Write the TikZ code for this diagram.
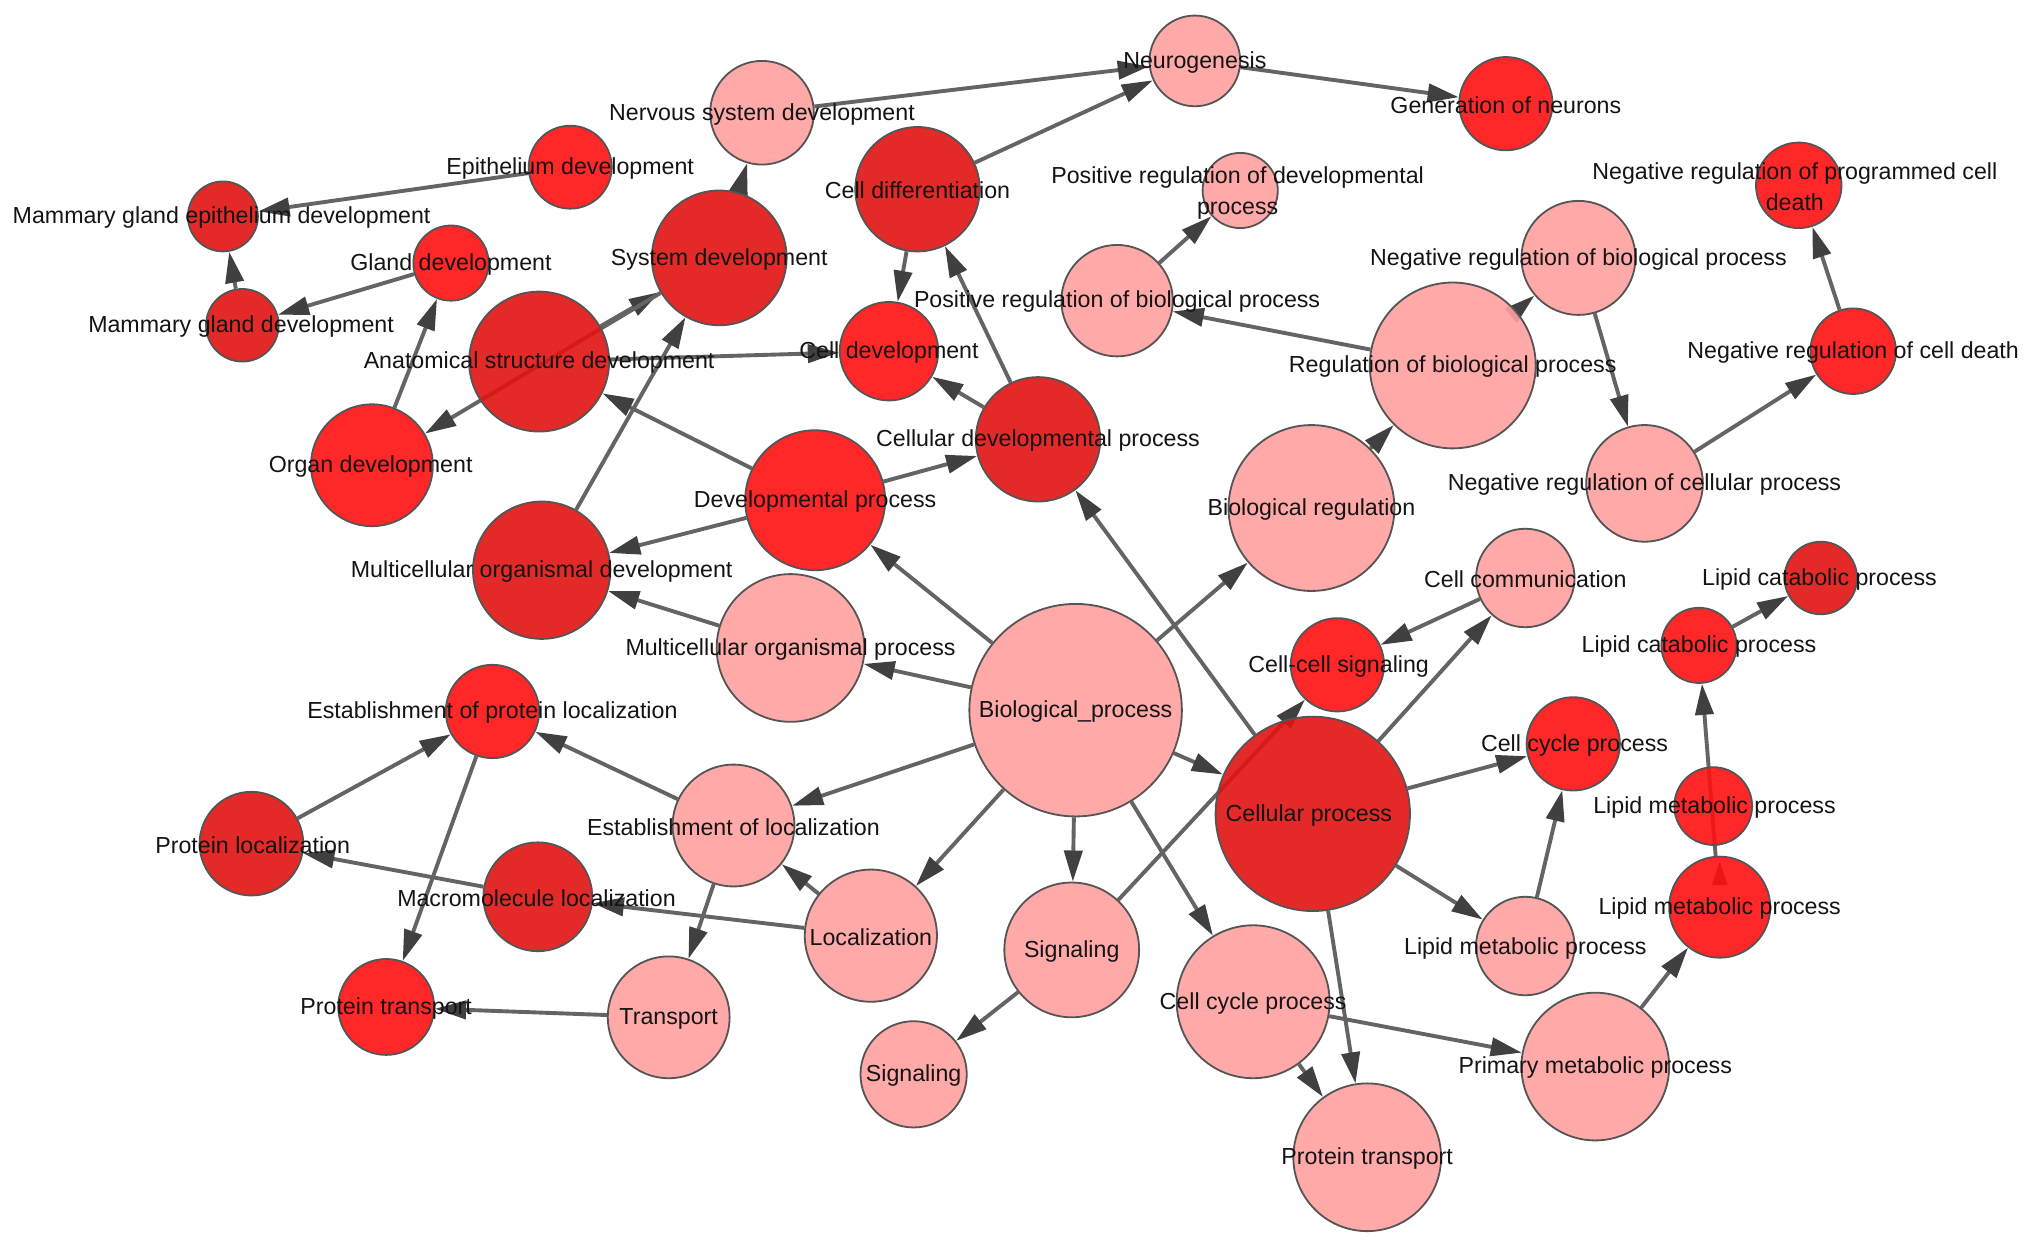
\documentclass[tikz,border=0pt]{standalone}
\usepackage{fontspec}
\setmainfont{Liberation Sans}
\usetikzlibrary{arrows.meta}
\pgfdeclarelayer{background}
\pgfdeclarelayer{foreground}
\pgfsetlayers{background,main,foreground}
\definecolor{cLight}{RGB}{255,160,160}
\definecolor{cRed}{RGB}{255,16,16}
\definecolor{cDark}{RGB}{226,18,18}
\definecolor{bordergray}{RGB}{85,85,85}
\definecolor{edgegray}{RGB}{100,100,100}
\definecolor{tipgray}{RGB}{64,64,64}
\tikzset{
  nd/.style={circle, draw=bordergray, line width=0.7pt, inner sep=0pt, minimum size=#1pt, fill opacity=0.9},
  lbl/.style={font=\fontsize{8.95}{12}\selectfont, inner sep=0pt, text=black!92, align=center},
  edge/.style={draw=edgegray, line width=1.5pt, -{Triangle[length=12pt,width=7pt,color=tipgray]}},
}
\begin{document}
\begin{tikzpicture}[x=0.5pt,y=-0.5pt]
\useasboundingbox (0,0) rectangle (1568,964);

% circles
\node[nd=35, fill=cLight] (neuro) at (922,47) {};
\node[nd=36, fill=cRed] (genneu) at (1162,80) {};
\node[nd=40, fill=cLight] (nervous) at (588,87) {};
\node[nd=32, fill=cRed] (epith) at (440,129) {};
\node[nd=27, fill=cDark] (mgepi) at (172,167) {};
\node[nd=48, fill=cDark] (celldiff) at (708,146) {};
\node[nd=29, fill=cLight] (posdev) at (957,147) {};
\node[nd=33, fill=cRed] (negpcd) at (1388,143) {};
\node[nd=29, fill=cRed] (gland) at (348,203) {};
\node[nd=52, fill=cDark] (sysdev) at (555,199) {};
\node[nd=44, fill=cLight] (negbio) at (1218,199) {};
\node[nd=28, fill=cDark] (mgdev) at (187,251) {};
\node[nd=43, fill=cLight] (posbio) at (862,232) {};
\node[nd=54, fill=cDark] (anat) at (416,279) {};
\node[nd=38, fill=cRed] (celldev) at (686,271) {};
\node[nd=64, fill=cLight] (regbio) at (1121,282) {};
\node[nd=33, fill=cRed] (negcd) at (1430,271) {};
\node[nd=47, fill=cRed] (organ) at (287,359) {};
\node[nd=48, fill=cDark] (cdp) at (801,339) {};
\node[nd=45, fill=cLight] (negcell) at (1269,373) {};
\node[nd=54, fill=cRed] (devproc) at (629,386) {};
\node[nd=64, fill=cLight] (bioreg) at (1012,392) {};
\node[nd=53, fill=cDark] (mod) at (418,440) {};
\node[nd=38, fill=cLight] (cellcomm) at (1177,446) {};
\node[nd=28, fill=cDark] (lipcatU) at (1405,446) {};
\node[nd=57, fill=cLight] (mop) at (610,500) {};
\node[nd=82, fill=cLight] (bp) at (830,548) {};
\node[nd=36, fill=cRed] (ccs) at (1032,513) {};
\node[nd=29, fill=cRed] (lipcatL) at (1311,498) {};
\node[nd=36, fill=cRed] (estprot) at (380,549) {};
\node[nd=36, fill=cRed] (ccpU) at (1214,574) {};
\node[nd=75, fill=cDark] (cellproc) at (1013,628) {};
\node[nd=30, fill=cRed] (lipmetU) at (1322,622) {};
\node[nd=47, fill=cLight] (estloc) at (566,637) {};
\node[nd=40, fill=cDark] (protloc) at (194,651) {};
\node[nd=42, fill=cDark] (macro) at (415,692) {};
\node[nd=39, fill=cRed] (lipmetL) at (1327,700) {};
\node[nd=51, fill=cLight] (loc) at (672,722) {};
\node[nd=52, fill=cLight] (sig) at (827,733) {};
\node[nd=38, fill=cLight] (lipmetP) at (1177,730) {};
\node[nd=37, fill=cRed] (ptL) at (298,777) {};
\node[nd=47, fill=cLight] (transport) at (516,785) {};
\node[nd=59, fill=cLight] (ccpL) at (967,773) {};
\node[nd=41, fill=cLight] (sigL) at (705,829) {};
\node[nd=57, fill=cLight] (primary) at (1231,823) {};
\node[nd=57, fill=cLight] (ptB) at (1055,893) {};

\begin{pgfonlayer}{background}
\fill[white] (0,0) rectangle (1568,964);
\draw[edge] (nervous) -- (neuro);
\draw[edge] (celldiff) -- (neuro);
\draw[edge] (neuro) -- (genneu);
\draw[edge] (epith) -- (mgepi);
\draw[edge] (mgdev) -- (mgepi);
\draw[edge] (gland) -- (mgdev);
\draw[edge] (organ) -- (gland);
\draw[edge] (sysdev) -- (nervous);
\draw[edge] (anat) -- (sysdev);
\draw[edge] (sysdev) -- (organ);
\draw[edge] (anat) -- (celldev);
\draw[edge] (celldiff) -- (celldev);
\draw[edge] (cdp) -- (celldiff);
\draw[edge] (cdp) -- (celldev);
\draw[edge] (devproc) -- (anat);
\draw[edge] (devproc) -- (cdp);
\draw[edge] (devproc) -- (mod);
\draw[edge] (mod) -- (sysdev);
\draw[edge] (mop) -- (mod);
\draw[edge] (bp) -- (mop);
\draw[edge] (bp) -- (devproc);
\draw[edge] (cellproc) -- (cdp);
\draw[edge] (bp) -- (bioreg);
\draw[edge] (bioreg) -- (regbio);
\draw[edge] (regbio) -- (posbio);
\draw[edge] (posbio) -- (posdev);
\draw[edge] (regbio) -- (negbio);
\draw[edge] (negbio) -- (negcell);
\draw[edge] (negcell) -- (negcd);
\draw[edge] (negcd) -- (negpcd);
\draw[edge] (bp) -- (cellproc);
\draw[edge] (cellproc) -- (cellcomm);
\draw[edge] (cellcomm) -- (ccs);
\draw[edge] (sig) -- (ccs);
\draw[edge] (cellproc) -- (ccpU);
\draw[edge] (cellproc) -- (lipmetP);
\draw[edge] (lipmetP) -- (ccpU);
\draw[edge] (cellproc) -- (ptB);
\draw[edge] (bp) -- (ccpL);
\draw[edge] (bp) -- (sig);
\draw[edge] (bp) -- (loc);
\draw[edge] (bp) -- (estloc);
\draw[edge] (ccpL) -- (ptB);
\draw[edge] (ccpL) -- (primary);
\draw[edge] (primary) -- (lipmetL);
\draw[edge] (lipmetL) -- (lipcatL);
\draw[edge] (lipcatL) -- (lipcatU);
\draw[edge] (sig) -- (sigL);
\draw[edge] (loc) -- (estloc);
\draw[edge] (loc) -- (macro);
\draw[edge] (estloc) -- (estprot);
\draw[edge] (estloc) -- (transport);
\draw[edge] (macro) -- (protloc);
\draw[edge] (protloc) -- (estprot);
\draw[edge] (estprot) -- (ptL);
\draw[edge] (transport) -- (ptL);
\fill[tipgray] (1321,683) -- (1333,683) -- (1327,665) -- cycle;
\end{pgfonlayer}

\begin{pgfonlayer}{foreground}
\node[lbl] (neuro-t) at (922,48) {Neurogenesis};
\node[lbl] (genneu-t) at (1162,81) {Generation of neurons};
\node[lbl] (nervous-t) at (588,88) {Nervous system development};
\node[lbl] (epith-t) at (440,130) {Epithelium development};
\node[lbl] (mgepi-t) at (171,168) {Mammary gland epithelium development};
\node[lbl] (celldiff-t) at (708,147) {Cell differentiation};
\node[lbl] (posdev-t) at (955,149) {Positive regulation of developmental\\process};
\node[lbl] (negpcd-t) at (1385,144) {Negative regulation of programmed cell\\death};
\node[lbl] (gland-t) at (348,204) {Gland development};
\node[lbl] (sysdev-t) at (555,200) {System development};
\node[lbl] (negbio-t) at (1218,200) {Negative regulation of biological process};
\node[lbl] (mgdev-t) at (186,252) {Mammary gland development};
\node[lbl] (posbio-t) at (862,233) {Positive regulation of biological process};
\node[lbl] (anat-t) at (416,280) {Anatomical structure development};
\node[lbl] (celldev-t) at (686,272) {Cell development};
\node[lbl] (regbio-t) at (1121,283) {Regulation of biological process};
\node[lbl] (negcd-t) at (1430,272) {Negative regulation of cell death};
\node[lbl] (organ-t) at (286,360) {Organ development};
\node[lbl] (cdp-t) at (801,340) {Cellular developmental process};
\node[lbl] (negcell-t) at (1269,374) {Negative regulation of cellular process};
\node[lbl] (devproc-t) at (629,387) {Developmental process};
\node[lbl] (bioreg-t) at (1012,393) {Biological regulation};
\node[lbl] (mod-t) at (418,441) {Multicellular organismal development};
\node[lbl] (cellcomm-t) at (1177,447) {Cell communication};
\node[lbl] (lipcatU-t) at (1404,447) {Lipid catabolic process};
\node[lbl] (mop-t) at (610,501) {Multicellular organismal process};
\node[lbl] (bp-t) at (830,549) {Biological\_process};
\node[lbl] (ccs-t) at (1033,514) {Cell-cell signaling};
\node[lbl] (lipcatL-t) at (1311,499) {Lipid catabolic process};
\node[lbl] (estprot-t) at (380,550) {Establishment of protein localization};
\node[lbl] (ccpU-t) at (1215,575) {Cell cycle process};
\node[lbl] (cellproc-t) at (1010,629) {Cellular process};
\node[lbl] (lipmetU-t) at (1323,623) {Lipid metabolic process};
\node[lbl] (estloc-t) at (566,638) {Establishment of localization};
\node[lbl] (protloc-t) at (195,652) {Protein localization};
\node[lbl] (macro-t) at (414,693) {Macromolecule localization};
\node[lbl] (lipmetL-t) at (1327,701) {Lipid metabolic process};
\node[lbl] (loc-t) at (672,723) {Localization};
\node[lbl] (sig-t) at (827,734) {Signaling};
\node[lbl] (lipmetP-t) at (1177,732) {Lipid metabolic process};
\node[lbl] (ptL-t) at (298,778) {Protein transport};
\node[lbl] (transport-t) at (516,786) {Transport};
\node[lbl] (ccpL-t) at (967,774) {Cell cycle process};
\node[lbl] (sigL-t) at (705,830) {Signaling};
\node[lbl] (primary-t) at (1231,824) {Primary metabolic process};
\node[lbl] (ptB-t) at (1055,894) {Protein transport};
\end{pgfonlayer}
\end{tikzpicture}
\end{document}
